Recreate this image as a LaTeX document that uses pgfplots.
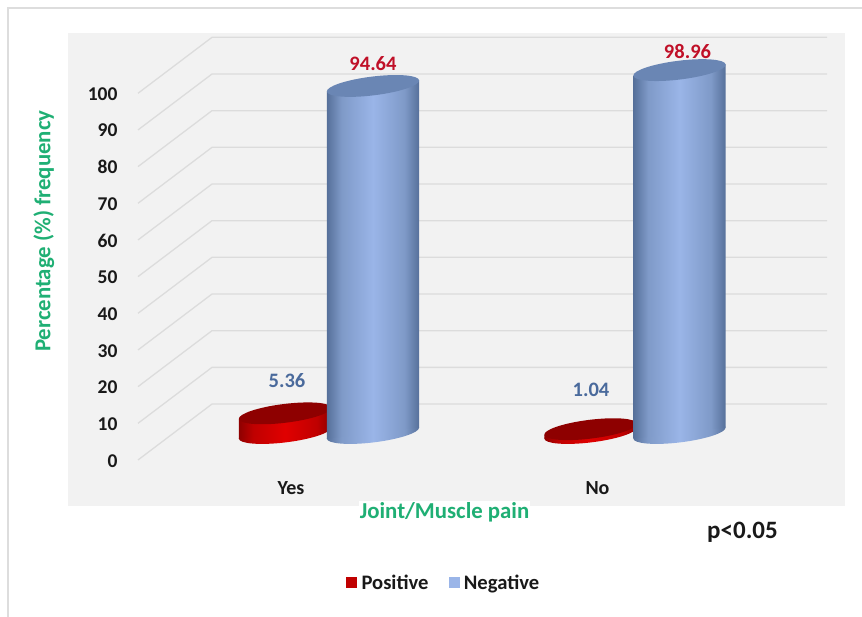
\documentclass[border=0pt]{standalone}
\usepackage{pgfplots}
\usepackage{pgfplotstable}
\usepackage{fontspec}
\setmainfont{Carlito}
\pgfplotsset{compat=1.18}

\definecolor{panel}{HTML}{F2F2F2}
\definecolor{gridgray}{HTML}{DCDCDC}
\definecolor{framegray}{HTML}{DDDDDD}
\definecolor{axisgreen}{HTML}{1FAF74}
\definecolor{bluedark}{HTML}{56709A}
\definecolor{blueside}{HTML}{7F9AC8}
\definecolor{bluemid}{HTML}{9AB5E8}
\definecolor{bluecap}{HTML}{6A86B4}
\definecolor{bluelabel}{HTML}{4A6A9C}
\definecolor{reddark}{HTML}{8E0000}
\definecolor{redside}{HTML}{C00000}
\definecolor{redmid}{HTML}{E00000}
\definecolor{redcap}{HTML}{8E0000}
\definecolor{redlabel}{HTML}{C01028}

% Cylinder side shadings, dark at the rims and bright along the middle
\pgfdeclarehorizontalshading{cylblue}{100bp}{color(0bp)=(bluedark); color(25bp)=(bluedark); color(33bp)=(blueside); color(50bp)=(bluemid); color(67bp)=(blueside); color(75bp)=(bluedark); color(100bp)=(bluedark)}
\pgfdeclarehorizontalshading{cylred}{100bp}{color(0bp)=(reddark); color(25bp)=(reddark); color(33bp)=(redside); color(50bp)=(redmid); color(67bp)=(redside); color(75bp)=(reddark); color(100bp)=(reddark)}

% A whole cylinder as one mark, standing on the floor; \vh is its height in pt.
% The body is a parallelogram so that its sides meet the tilted ends at their extremes.
\newcommand{\cylend}[1]{\pgfpathellipse{\pgfpoint{0pt}{#1}}{\pgfqpoint{46.15pt}{5.67pt}}{\pgfqpoint{-1.15pt}{9.33pt}}}
\newcommand{\cylinder}[2]{%
  \cylend{-\vh pt}\pgfshadepath{#1}{0}\pgfusepath{discard}%
  \pgfpathmoveto{\pgfpoint{-46.15pt}{-\vh pt-5.67pt}}%
  \pgfpathlineto{\pgfpoint{46.15pt}{-\vh pt+5.67pt}}%
  \pgfpathlineto{\pgfpoint{46.15pt}{5.67pt}}%
  \pgfpathlineto{\pgfpoint{-46.15pt}{-5.67pt}}%
  \pgfpathclose\pgfshadepath{#1}{0}\pgfusepath{discard}%
  \cylend{0pt}\pgfsetfillcolor{#2}\pgfusepathqfill}
\pgfdeclareplotmark{blue cylinder}{\cylinder{cylblue}{bluecap}}
\pgfdeclareplotmark{red cylinder}{\cylinder{cylred}{redcap}}

% x position, percentage, and label offsets from the top of the cylinder
\pgfplotstableread{
x     v      dx  dy
285   5.36   2   33
590.5 1.04   0.5 39
}\positive
\pgfplotstableread{
x     v      dx  dy
373   94.64  0   22
679.5 98.96  8   19
}\negative

\pgfplotsset{cylinders/.style={forget plot,only marks,
  scatter,scatter src=y,
  visualization depends on={\thisrow{v}*3.667 \as \vh},
  visualization depends on=\thisrow{dx}\as\dx,
  visualization depends on=\thisrow{dy}\as\dy,
  point meta=y,
  nodes near coords={\pgfmathprintnumber[fixed,precision=2,fixed zerofill]{\pgfplotspointmeta}},
  every node near coord/.append style={anchor=center,xshift=\dx pt,yshift=\dy pt,font=\fontsize{20.5}{22}\selectfont\bfseries}}}

\begin{document}
\begin{tikzpicture}[x=1pt,y=1pt]
\useasboundingbox (0,0) rectangle (862,617);
\begin{axis}[
  at={(68pt,111pt)}, anchor=south west,
  scale only axis, width=777pt, height=473pt,
  xmin=68, xmax=845, ymin=-19.907, ymax=109.08,
  clip=false,
  axis line style={draw=none},
  axis background/.style={fill=panel},
  major tick length=0pt,
  ytick={0,10,...,100},
  xtick={291,597.5},
  xticklabels={Yes,No},
  /pgf/number format/assume math mode=true,
  yticklabel style={font=\fontsize{19.5}{21}\selectfont\bfseries,anchor=east,xshift=53pt,yshift=-27.7pt,text=black!90},
  xticklabel style={font=\fontsize{20}{22}\selectfont\bfseries,anchor=center,yshift=18pt,text=black!90},
  xlabel={Joint/Muscle pain},
  xlabel style={font=\fontsize{22.8}{24}\selectfont\bfseries,text=axisgreen,fill=white,inner sep=1pt,at={(axis description cs:0.4846,0)},anchor=center,yshift=-6pt},
  ylabel={Percentage (\%) frequency},
  ylabel style={font=\fontsize{22.8}{24}\selectfont\bfseries,text=axisgreen,at={(axis description cs:-0.031,0.581)},anchor=center,rotate=0},
  legend style={draw=none,fill=none,at={(axis description cs:0.4835,-0.162)},anchor=center,legend columns=2,
    font=\fontsize{20.6}{22}\selectfont\bfseries,text=black!90,/tikz/every even column/.append style={column sep=18pt}},
  legend cell align=left,
]
% Walls: slanted floor-to-back rulings and the back-wall gridlines
\pgfplotsinvokeforeach{0,10,...,100}{
  \draw[gridgray,line width=1.3pt] (axis cs:138,#1-7.36) -- (axis cs:212,#1+7.9) -- (axis cs:827,#1+7.9);
}

% Positive cylinders stand behind the negative ones
\addplot[cylinders,mark=red cylinder,every node near coord/.append style={text=bluelabel}] table[x=x,y=v] {\positive};
\addplot[cylinders,mark=blue cylinder,every node near coord/.append style={text=redlabel}] table[x=x,y=v] {\negative};

% Legend swatches
\addlegendimage{legend image code/.code={\fill[redside] (0pt,-5pt) rectangle (10pt,5pt); \path (13pt,0pt);}}
\addlegendentry{Positive}
\addlegendimage{legend image code/.code={\fill[bluemid] (0pt,-5pt) rectangle (10pt,5pt); \path (13pt,0pt);}}
\addlegendentry{Negative}

\node[font=\fontsize{25}{27}\selectfont\bfseries,text=black!90] at (axis cs:742.5,-27) {p<0.05};
\end{axis}
% Thin outer frame of the chart area
\draw[framegray,line width=1.3pt] (8,0) -- (8,609) -- (862,609);
\end{tikzpicture}
\end{document}
